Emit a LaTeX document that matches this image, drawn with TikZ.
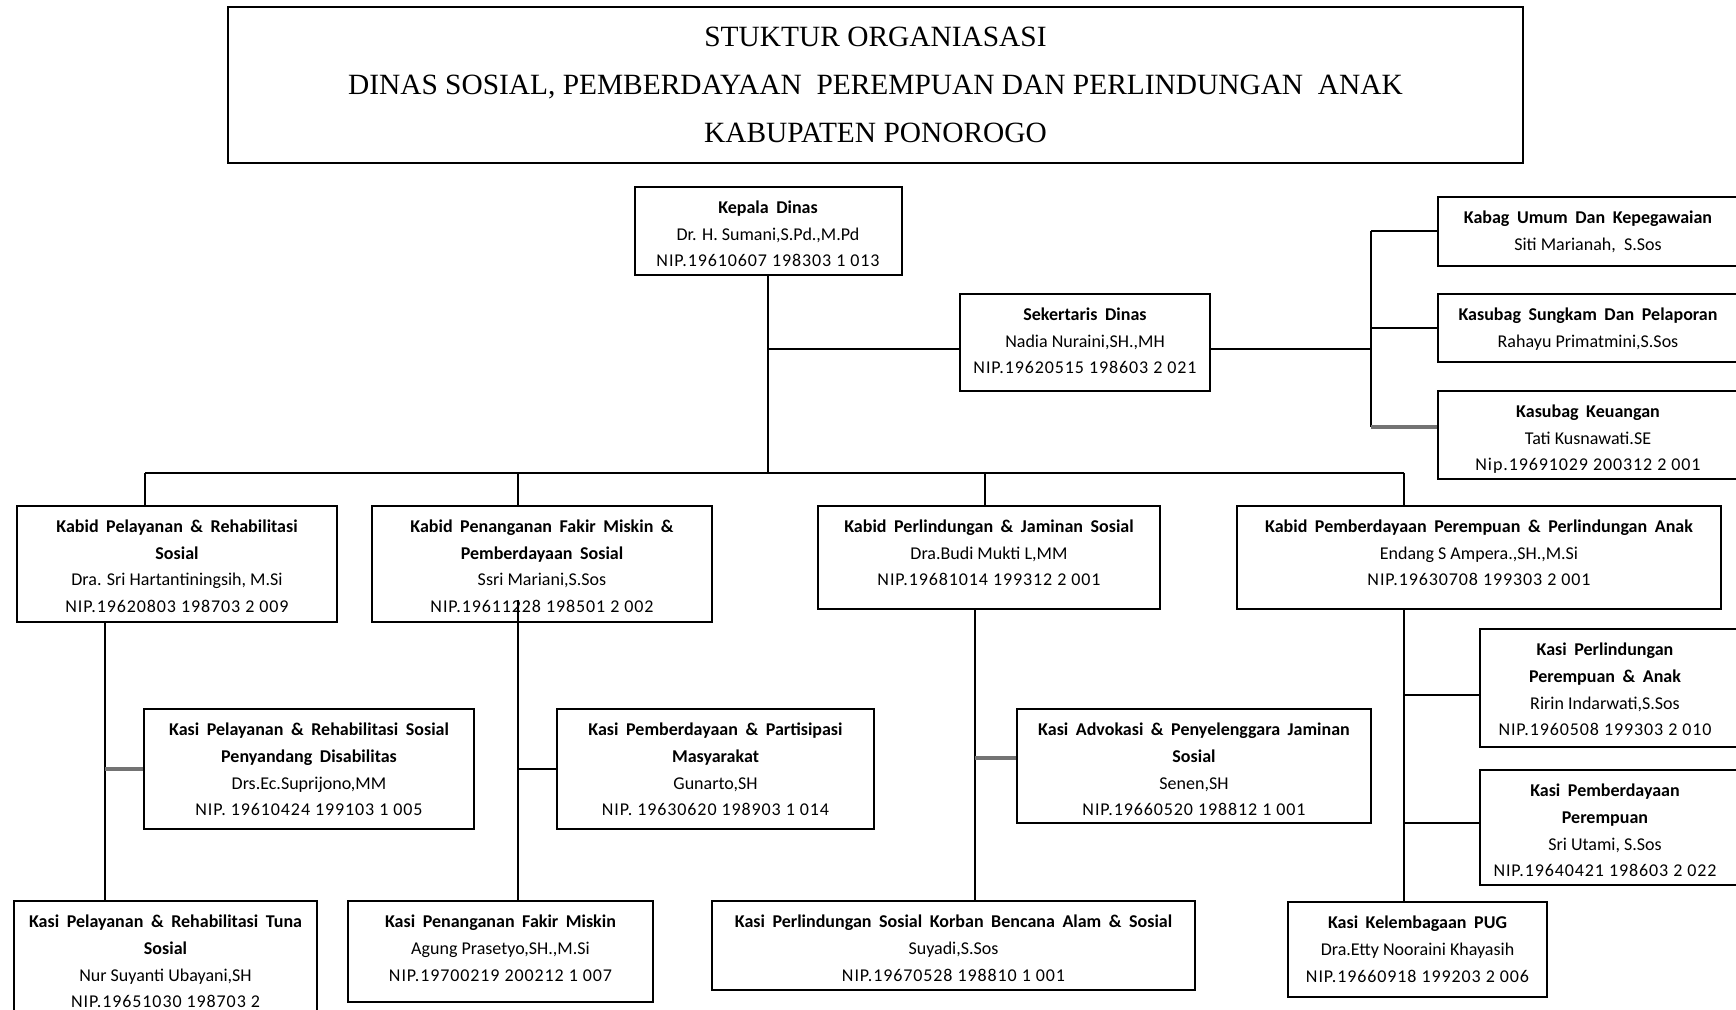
\documentclass[tikz,border=0pt]{standalone}
\usepackage{fontspec}
\setmainfont{Carlito}
\newfontfamily\titlefont{Liberation Serif}
\newfontfamily\nipfont{Carlito}[LetterSpace=5]
\newcommand\hd[1]{{\bfseries\spaceskip=0.42em\relax\rule{0pt}{7pt}#1}}
\newcommand\nip[1]{{\nipfont #1}}
\newcommand\obox[7][0pt]{%
  \node[boxs, minimum width=#5, minimum height=#6] (#2) at (#3,#4) {};
  \node[txt, anchor=north] (#2-t) at ([xshift=#1, yshift=-6.5pt]#2.north) {#7};
}
\begin{document}
\begin{tikzpicture}[x=0.5pt,y=-0.5pt,
  boxs/.style={draw, line width=1pt, rectangle, inner sep=0pt},
  txt/.style={inner sep=0pt, align=center, font=\fontsize{9}{13.4}\selectfont},
  link/.style={line width=1pt},
  glink/.style={line width=2pt, black!55},
]
\useasboundingbox (0,0) rectangle (1736,1010);
\clip (0,0) rectangle (1736,1010);

% title
\node[draw, line width=1.4pt, minimum width=647.5pt, minimum height=78pt, inner sep=0pt,
  align=center, font=\titlefont\fontsize{14.7}{23.8}\selectfont] (title) at (875.5,85)
  {STUKTUR ORGANIASASI\\DINAS SOSIAL, PEMBERDAYAAN\ \ PEREMPUAN DAN PERLINDUNGAN\ \ ANAK\\KABUPATEN PONOROGO};

% top level
\obox{kepala}{768}{231}{133.5pt}{44pt}
  {\hd{Kepala Dinas}\\Dr. H. Sumani,S.Pd.,M.Pd\\\nip{NIP.19610607 198303 1 013}}
\obox{sek}{1085}{342.5}{125pt}{48.5pt}
  {\hd{Sekertaris Dinas}\\Nadia Nuraini,SH.,MH\\\nip{NIP.19620515 198603 2 021}}

\obox[-1.75pt]{kabag}{1591.5}{231.5}{153.5pt}{34.5pt}
  {\hd{Kabag Umum Dan Kepegawaian}\\Siti Marianah,\ \ S.Sos}
\obox[-1.75pt]{sungkam}{1591.5}{328}{153.5pt}{34pt}
  {\hd{Kasubag Sungkam Dan Pelaporan}\\Rahayu Primatmini,S.Sos}
\obox[-1.75pt]{keu}{1591.5}{435}{153.5pt}{44pt}
  {\hd{Kasubag Keuangan}\\Tati Kusnawati.SE\\\nip{Nip.19691029 200312 2 001}}

% kabid row
\obox{kb1}{177}{564}{160pt}{58pt}
  {\hd{Kabid Pelayanan \& Rehabilitasi}\\\hd{Sosial}\\Dra. Sri Hartantiningsih, M.Si\\\nip{NIP.19620803 198703 2 009}}
\obox{kb2}{542}{564}{170pt}{58pt}
  {\hd{Kabid Penanganan Fakir Miskin \&}\\\hd{Pemberdayaan Sosial}\\Ssri Mariani,S.Sos\\\nip{NIP.19611228 198501 2 002}}
\obox{kb3}{989}{557.5}{171pt}{51.5pt}
  {\hd{Kabid Perlindungan \& Jaminan Sosial}\\Dra.Budi Mukti L,MM\\\nip{NIP.19681014 199312 2 001}}
\obox{kb4}{1479}{557.5}{242pt}{51.5pt}
  {\hd{Kabid Pemberdayaan Perempuan \& Perlindungan Anak}\\Endang S Ampera.,SH.,M.Si\\\nip{NIP.19630708 199303 2 001}}

% kasi
\obox{ks1a}{309}{769}{165pt}{60pt}
  {\hd{Kasi Pelayanan \& Rehabilitasi Sosial}\\\hd{Penyandang Disabilitas}\\Drs.Ec.Suprijono,MM\\\nip{NIP. 19610424 199103 1 005}}
\obox{ks1b}{165.5}{961.5}{151.5pt}{60.5pt}
  {\hd{Kasi Pelayanan \& Rehabilitasi Tuna}\\\hd{Sosial}\\Nur Suyanti Ubayani,SH\\\nip{NIP.19651030 198703 2}}
\obox{ks2a}{715.5}{769}{158.5pt}{60pt}
  {\hd{Kasi Pemberdayaan \& Partisipasi}\\\hd{Masyarakat}\\Gunarto,SH\\\nip{NIP. 19630620 198903 1 014}}
\obox{ks2b}{500.5}{951.5}{152.5pt}{50.5pt}
  {\hd{Kasi Penanganan Fakir Miskin}\\Agung Prasetyo,SH.,M.Si\\\nip{NIP.19700219 200212 1 007}}
\obox{ks3a}{1194}{766}{177pt}{57pt}
  {\hd{Kasi Advokasi \& Penyelenggara Jaminan}\\\hd{Sosial}\\Senen,SH\\\nip{NIP.19660520 198812 1 001}}
\obox{ks3b}{953.5}{945.5}{241.5pt}{44.5pt}
  {\hd{Kasi Perlindungan Sosial Korban Bencana Alam \& Sosial}\\Suyadi,S.Sos\\\nip{NIP.19670528 198810 1 001}}
\obox[-3.75pt]{ks4a}{1612.5}{688}{132.5pt}{59pt}
  {\hd{Kasi Perlindungan}\\\hd{Perempuan \& Anak}\\Ririn Indarwati,S.Sos\\\nip{NIP.1960508 199303 2 010}}
\obox[-3.75pt]{ks4b}{1612.5}{827.5}{132.5pt}{57.5pt}
  {\hd{Kasi Pemberdayaan}\\\hd{Perempuan}\\Sri Utami, S.Sos\\\nip{NIP.19640421 198603 2 022}}
\obox{ks4c}{1417.5}{949.5}{129.5pt}{47.5pt}
  {\hd{Kasi Kelembagaan PUG}\\Dra.Etty Nooraini Khayasih\\\nip{NIP.19660918 199203 2 006}}

% connectors top
\coordinate (bus) at (768,473);
\coordinate (tj) at (768,349);
\coordinate (sj) at (1371,349);
\coordinate (kj) at (1371,427);
\draw[link] (kepala.south) -- (bus);
\draw[link] (tj) -- (tj -| sek.west);
\draw[link] (sek.east |- sj) -- (sj);
\draw[link] (sj |- kabag.west) -- (kj);
\draw[link] (sj |- kabag.west) -- (kabag.west);
\draw[link] (sj |- sungkam.west) -- (sungkam.west);
\draw[glink] (kj) -- (kj -| keu.west);

% bus
\coordinate (b1) at (145,473);
\coordinate (b2) at (518,473);
\coordinate (b3) at (985,473);
\coordinate (b4) at (1404,473);
\draw[link] (b1) -- (b4);
\draw[link] (b1) -- (b1 |- kb1.north);
\draw[link] (b2) -- (b2 |- kb2.north);
\draw[link] (b3) -- (b3 |- kb3.north);
\draw[link] (b4) -- (b4 |- kb4.north);

% sub trunks
\coordinate (v1) at (105,622);
\draw[link] (v1) -- (v1 |- ks1b.north);
\draw[glink] (v1 |- ks1a.west) -- (ks1a.west);

\coordinate (v2) at (518,600);
\draw[link] (v2) -- (v2 |- ks2b.north);
\draw[link] (v2 |- ks2a.west) -- (ks2a.west);

\coordinate (v3) at (975,609);
\coordinate (j3) at (975,758);
\draw[link] (v3) -- (v3 |- ks3b.north);
\draw[glink] (j3) -- (j3 -| ks3a.west);

\coordinate (v4) at (1404,609);
\coordinate (j4a) at (1404,695);
\coordinate (j4b) at (1404,823);
\draw[link] (v4) -- (v4 |- ks4c.north);
\draw[link] (j4a) -- (j4a -| ks4a.west);
\draw[link] (j4b) -- (j4b -| ks4b.west);
\end{tikzpicture}
\end{document}
